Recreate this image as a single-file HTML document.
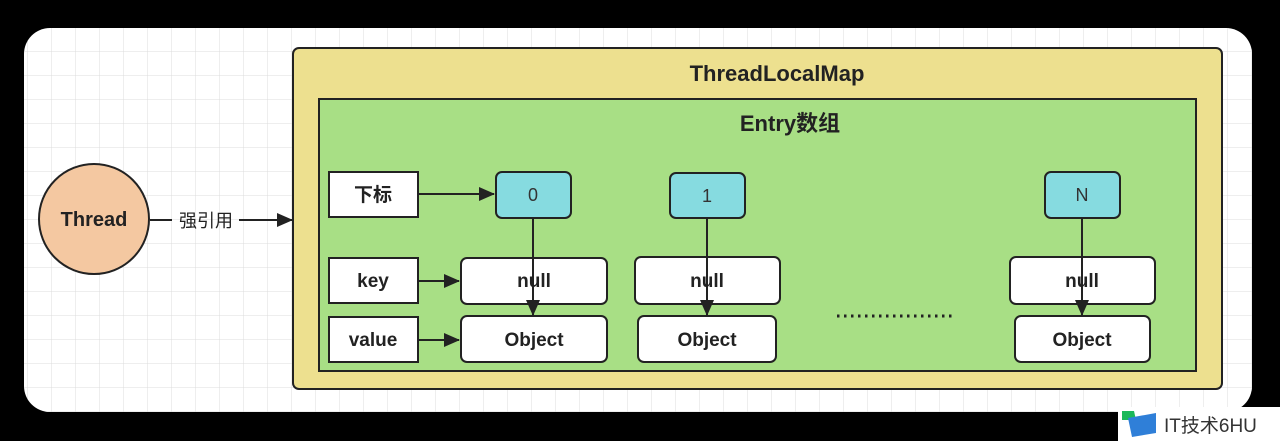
<!DOCTYPE html>
<html><head><meta charset="utf-8"><style>
body{margin:0;width:1280px;height:441px;background:#000;overflow:hidden;font-family:"Liberation Sans","Noto Sans CJK SC",sans-serif}
</style></head><body>
<svg width="1280" height="441" xmlns="http://www.w3.org/2000/svg" style="position:absolute;left:0;top:0">
<defs>
<pattern id="g" width="24" height="24" patternUnits="userSpaceOnUse" x="4" y="4">
<path d="M24 0V24M0 24H24" stroke="#dcdcdc" stroke-width="1" fill="none"/>
</pattern>
<marker id="a" markerWidth="16" markerHeight="14" refX="15" refY="7" orient="auto" markerUnits="userSpaceOnUse"><path d="M0,0 L16,7 L0,14 z" fill="#222"/></marker>
<marker id="b" markerWidth="16" markerHeight="14" refX="15" refY="7" orient="auto" markerUnits="userSpaceOnUse"><path d="M0,0 L16,7 L0,14 z" fill="#222"/></marker>
</defs>
<rect x="24" y="28" width="1228" height="384" rx="26" fill="#fff"/>
<rect x="24" y="28" width="1228" height="384" rx="26" fill="url(#g)"/>
<rect x="293" y="48" width="929" height="341" rx="6" fill="#ede08f" stroke="#222" stroke-width="2"/>
<text x="777" y="81" font-size="22" font-weight="bold" text-anchor="middle" fill="#222">ThreadLocalMap</text>
<rect x="319" y="99" width="877" height="272" fill="#a8df85" stroke="#222" stroke-width="2"/>
<text x="790" y="131" font-size="22" font-weight="bold" text-anchor="middle" fill="#222">Entry数组</text>
<ellipse cx="94" cy="219" rx="55" ry="55" fill="#f4c8a1" stroke="#222" stroke-width="2"/>
<text x="94" y="226" font-size="20" font-weight="bold" text-anchor="middle" fill="#222">Thread</text>
<line x1="150" y1="220" x2="172" y2="220" stroke="#222" stroke-width="2"/>
<text x="206" y="227" font-size="18" text-anchor="middle" fill="#222">强引用</text>
<line x1="239" y1="220" x2="292" y2="220" stroke="#222" stroke-width="2" marker-end="url(#b)"/>
<g fill="#fff" stroke="#222" stroke-width="2">
<rect x="329" y="172" width="89" height="45"/>
<rect x="329" y="258" width="89" height="45"/>
<rect x="329" y="317" width="89" height="45"/>
<rect x="461" y="258" width="146" height="46" rx="6"/>
<rect x="461" y="316" width="146" height="46" rx="6"/>
<rect x="635" y="257" width="145" height="47" rx="6"/>
<rect x="638" y="316" width="138" height="46" rx="6"/>
<rect x="1010" y="257" width="145" height="47" rx="6"/>
<rect x="1015" y="316" width="135" height="46" rx="6"/>
</g>
<g fill="#86dbe0" stroke="#222" stroke-width="2">
<rect x="496" y="172" width="75" height="46" rx="6"/>
<rect x="670" y="173" width="75" height="45" rx="6"/>
<rect x="1045" y="172" width="75" height="46" rx="6"/>
</g>
<g font-size="19" font-weight="bold" text-anchor="middle" fill="#222">
<text x="373" y="201">下标</text>
<text x="373" y="287">key</text>
<text x="373" y="346">value</text>
<text x="534" y="287">null</text>
<text x="534" y="346">Object</text>
<text x="707" y="287">null</text>
<text x="707" y="346">Object</text>
<text x="1082" y="287">null</text>
<text x="1082" y="346">Object</text>
</g>
<g font-size="18" text-anchor="middle" fill="#333">
<text x="533" y="201">0</text>
<text x="707" y="202">1</text>
<text x="1082" y="201">N</text>
</g>
<g stroke="#222" stroke-width="2">
<line x1="419" y1="194" x2="494" y2="194" marker-end="url(#a)"/>
<line x1="419" y1="281" x2="459" y2="281" marker-end="url(#a)"/>
<line x1="419" y1="340" x2="459" y2="340" marker-end="url(#a)"/>
<line x1="533" y1="218" x2="533" y2="315" marker-end="url(#a)"/>
<line x1="707" y1="218" x2="707" y2="315" marker-end="url(#a)"/>
<line x1="1082" y1="218" x2="1082" y2="315" marker-end="url(#a)"/>
</g>
<line x1="837" y1="316" x2="955" y2="316" stroke="#222" stroke-width="3" stroke-dasharray="2.5 4.5"/>
<rect x="1118" y="407" width="162" height="34" fill="#fff"/>
<path d="M1122 411 L1134 411 L1136 420 L1122 420 z" fill="#1cb85a"/>
<path d="M1128 418 L1156 413 L1156 433 L1132 437 z" fill="#2f7fd8"/>
<text x="1164" y="432" font-size="19" fill="#333">IT技术6HU</text>
</svg>
</body></html>
